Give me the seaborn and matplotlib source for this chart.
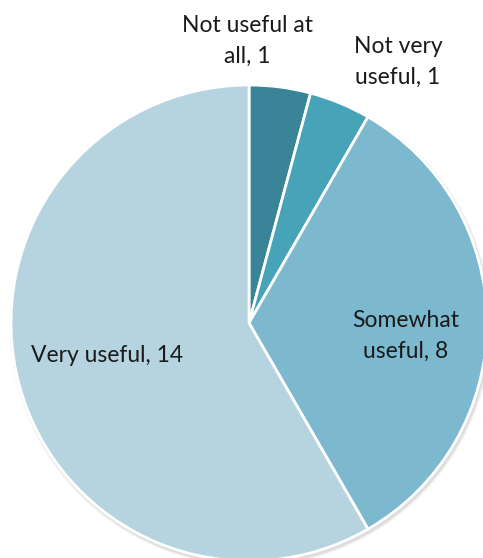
import matplotlib
matplotlib.use("Agg")
import matplotlib.pyplot as plt
import seaborn as sns
from matplotlib.patches import Circle

sns.set_theme(style="white")
plt.rcParams["font.family"] = ["Lato", "DejaVu Sans"]

categories = ["Not useful at\nall", "Not very\nuseful", "Somewhat\nuseful", "Very useful"]
counts = [1, 1, 8, 14]
colors = ["#3A8497", "#47A3B8", "#7CB8CE", "#B6D4DF"]

# label anchor points in figure pixel space (x, y from top)
label_xy = [(247, 41), (398, 62), (406, 336), (107, 355)]

W, H = 483, 558
fig = plt.figure(figsize=(W / 100, H / 100), dpi=100)
ax = fig.add_axes([0, 0, 1, 1])

cx, cy, r = 249, H - 323, 238

# soft drop shadow behind the pie
for i, a in enumerate([0.05, 0.07, 0.09]):
    ax.add_patch(Circle((cx + 1.5, cy - 2.5), r + 3 - i, color="#555555", alpha=a, lw=0, zorder=0))

ax.pie(counts, colors=colors, startangle=90, counterclock=False,
       center=(cx, cy), radius=r, frame=True,
       wedgeprops=dict(edgecolor="white", linewidth=2))
ax.set_xlim(0, W)
ax.set_ylim(0, H)
ax.set_aspect("equal")
ax.axis("off")

for cat, n, (x, y) in zip(categories, counts, label_xy):
    ax.text(x, H - y, f"{cat}, {n}", ha="center", va="center", fontsize=16.5,
            color="#1a1a1a", linespacing=1.55, zorder=5)

fig.savefig("out.png", dpi=100)
